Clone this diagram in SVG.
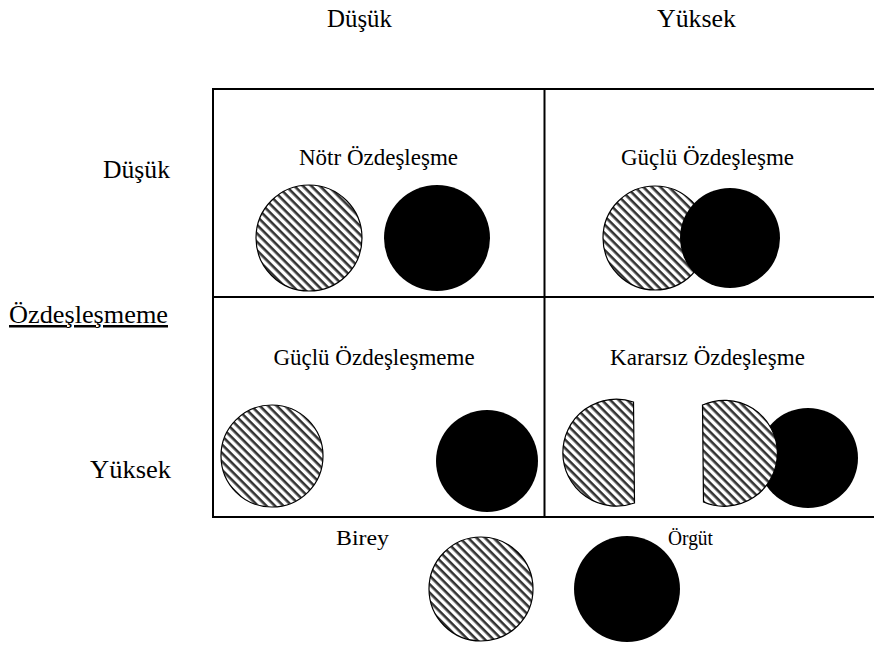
<svg xmlns="http://www.w3.org/2000/svg" width="874" height="645" viewBox="0 0 874 645">
  <style>
    text { font-family: "Liberation Serif", "Times New Roman", serif; fill: #000; }
    .ax { font-size: 25px; }
    .lbl { font-size: 23px; text-anchor: middle; }
    .key { font-size: 20px; }
    .grid { stroke: #000; stroke-width: 2; fill: none; }
    .ind { fill: url(#hatch); stroke: #000; stroke-width: 1.2; }
    .org { fill: #000; }
  </style>
  <defs>
    <!-- diagonal hatching used for the individual -->
    <pattern id="hatch" patternUnits="userSpaceOnUse" width="6" height="6" patternTransform="rotate(45)">
      <rect width="6" height="6" fill="#fff"/>
      <rect y="0" width="6" height="2.6" fill="#333"/>
    </pattern>
  </defs>

  <!-- axis labels -->
  <text class="ax" x="327" y="27" textLength="65" lengthAdjust="spacingAndGlyphs">Düşük</text>
  <text class="ax" x="657" y="27" textLength="79" lengthAdjust="spacingAndGlyphs">Yüksek</text>
  <text class="ax" x="103" y="178" textLength="67" lengthAdjust="spacingAndGlyphs">Düşük</text>
  <text class="ax" x="9" y="323" textLength="159" lengthAdjust="spacingAndGlyphs" text-decoration="underline">Özdeşleşmeme</text>
  <text class="ax" x="90" y="478" textLength="81" lengthAdjust="spacingAndGlyphs">Yüksek</text>

  <!-- matrix grid -->
  <g id="grid">
    <polyline class="grid" points="874,89 213,89 213,517 874,517"/>
    <line class="grid" x1="544.5" y1="89" x2="544.5" y2="517"/>
    <line class="grid" x1="213" y1="297" x2="874" y2="297"/>
  </g>

  <!-- top-left: neutral identification -->
  <g id="notr">
    <text class="lbl" x="378.5" y="165">Nötr Özdeşleşme</text>
    <circle class="ind" cx="309" cy="238" r="53"/>
    <circle class="org" cx="437" cy="238" r="53"/>
  </g>

  <!-- top-right: strong identification -->
  <g id="guclu">
    <text class="lbl" x="707.5" y="165">Güçlü Özdeşleşme</text>
    <circle class="ind" cx="655" cy="238" r="52"/>
    <circle class="org" cx="730" cy="238" r="50"/>
  </g>

  <!-- bottom-left: strong disidentification -->
  <g id="guclu-ozdeslesmeme">
    <text class="lbl" x="374" y="365">Güçlü Özdeşleşmeme</text>
    <circle class="ind" cx="272" cy="456" r="51"/>
    <circle class="org" cx="487" cy="461" r="51"/>
  </g>

  <!-- bottom-right: ambivalent identification -->
  <g id="kararsiz">
    <text class="lbl" x="707.5" y="365">Kararsız Özdeşleşme</text>
    <path class="ind" d="M 633.5,402 A 53.5 53.5 0 1 0 634.5,503 Z"/>
    <circle class="org" cx="808" cy="458" r="50"/>
    <path class="ind" d="M 702.5,405 A 53 53 0 1 1 703.5,502 Z"/>
  </g>

  <!-- legend -->
  <g id="legend">
    <text class="key" x="336" y="545" textLength="53" lengthAdjust="spacingAndGlyphs">Birey</text>
    <text class="key" x="668" y="545" textLength="45" lengthAdjust="spacingAndGlyphs">Örgüt</text>
    <circle class="ind" cx="481" cy="589" r="52"/>
    <circle class="org" cx="627" cy="589" r="53"/>
  </g>
</svg>
